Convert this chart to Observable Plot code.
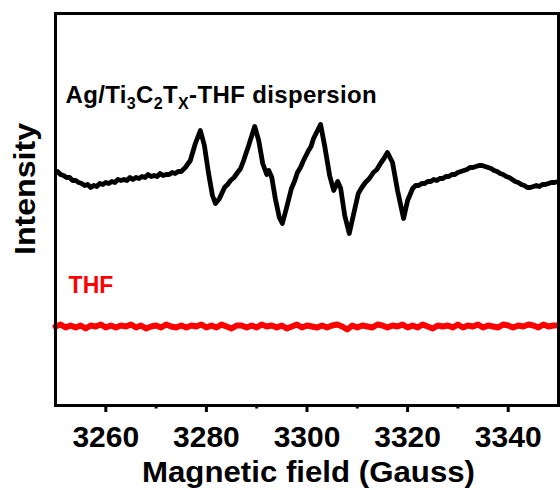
<!DOCTYPE html>
<html><head><meta charset="utf-8">
<script src="https://cdn.jsdelivr.net/npm/d3@7"></script>
<script src="https://cdn.jsdelivr.net/npm/@observablehq/plot@0.6"></script>
<style>
body{margin:0;background:#fff}
svg{font-family:"Liberation Sans",Arial,sans-serif}
</style>
</head><body><div id="chart"></div>
<script>
// Ag/Ti3C2Tx-THF dispersion EPR trace (arbitrary intensity units)
const agField = [3250.4,3251.0,3251.6,3252.2,3252.8,3253.4,3254.0,3254.6,3255.2,3255.8,3256.4,3257.0,3257.6,3258.2,3258.8,3259.4,3260.0,3260.6,3261.2,3261.8,3262.4,3263.0,3263.6,3264.2,3264.8,3265.4,3266.0,3266.6,3267.2,3267.8,3268.4,3269.0,3269.6,3270.2,3270.8,3271.4,3272.0,3272.6,3273.2,3273.8,3274.4,3275.0,3275.8,3276.8,3277.8,3278.8,3279.6,3280.4,3281.2,3281.8,3282.6,3283.6,3284.2,3284.8,3285.5,3286.2,3286.8,3287.4,3288.4,3289.6,3290.4,3291.2,3292.0,3292.4,3293.0,3293.7,3294.5,3295.1,3295.9,3296.9,3297.5,3298.1,3298.7,3299.3,3300.3,3300.8,3301.3,3302.7,3303.5,3304.5,3305.3,3306.1,3306.7,3307.5,3308.4,3309.2,3310.2,3310.9,3311.6,3312.4,3313.2,3313.9,3314.6,3315.3,3316.0,3317.0,3318.0,3319.2,3320.0,3321.0,3321.6,3322.2,3322.8,3323.4,3324.0,3324.6,3325.2,3325.8,3326.4,3327.0,3327.6,3328.2,3328.8,3329.4,3330.0,3330.6,3331.2,3331.8,3332.4,3333.0,3333.6,3334.2,3334.8,3335.4,3336.0,3336.6,3337.2,3337.8,3338.4,3339.0,3339.6,3340.2,3340.8,3341.4,3342.0,3342.6,3343.2,3343.8,3344.4,3345.0,3345.6,3346.2,3346.8,3347.4,3348.0,3348.6,3349.2,3350.0];
const agIntensity = [234,231,230,228,228,225,225,223,222,220,221,218,220,219,222,221,223,222,224,223,226,225,226,225,228,226,228,227,229,228,231,229,230,229,232,230,231,231,233,232,234,234,238,245,262,275,260,233,210,202,207,218,221,225,228,233,237,245,260,279,265,242,231,235,228,207,188,182,197,217,224,233,238,245,255,259,267,281,260,230,215,224,217,190,172,190,212,218,223,227,233,236,242,247,253,243,215,187,205,217,220,220,222,222,224,224,226,225,227,227,229,229,231,231,233,234,235,236,238,238,239,240,240,239,238,237,235,234,232,231,229,228,226,224,223,221,220,218,218,219,220,219,221,221,222,223,223,224];
// THF blank trace
const thfField = [3250,3251,3252,3253,3254,3255,3256,3257,3258,3259,3260,3261,3262,3263,3264,3265,3266,3267,3268,3269,3270,3271,3272,3273,3274,3275,3276,3277,3278,3279,3280,3281,3282,3283,3284,3285,3286,3287,3288,3289,3290,3291,3292,3293,3294,3295,3296,3297,3298,3299,3300,3301,3302,3303,3304,3305,3306,3307,3308,3309,3310,3311,3312,3313,3314,3315,3316,3317,3318,3319,3320,3321,3322,3323,3324,3325,3326,3327,3328,3329,3330,3331,3332,3333,3334,3335,3336,3337,3338,3339,3340,3341,3342,3343,3344,3345,3346,3347,3348,3349,3350];
const thfIntensity = [79,81,78,80,78,80,77,80,79,81,78,80,78,80,79,81,78,80,77,79,80,78,81,79,78,80,78,80,79,81,78,80,78,81,79,77,80,80,78,80,78,81,79,80,78,80,77,79,81,78,80,79,78,80,78,80,81,79,76,80,78,80,79,78,81,80,78,80,79,81,78,80,78,81,79,77,80,79,80,78,81,78,80,79,81,78,80,79,78,81,80,78,80,79,81,80,78,81,79,80,80];
const majorTicks = [3260,3280,3300,3320,3340];
const minorTicks = [3270,3290,3310,3330];
const seriesLabels = ["Ag/Ti3C2TX-THF dispersion","THF"];
const labelField = [3252.0,3252.6];
const labelIntensity = [303,113];
const labelColors = ["black","#ff0000"];
const labelSizes = [24,23];

const ag = agField.map((f,i)=>({field:f,intensity:agIntensity[i]}));
const thf = thfField.map((f,i)=>({field:f,intensity:thfIntensity[i]}));
const labels = seriesLabels.map((t,i)=>({text:t,field:labelField[i],intensity:labelIntensity[i],color:labelColors[i],size:labelSizes[i]}));

const plot = Plot.plot({
  width:560, height:490,
  marginLeft:55, marginRight:2, marginTop:13, marginBottom:85,
  style:{fontFamily:"Liberation Sans, Arial, sans-serif", background:"white"},
  x:{domain:[3250,3350]},
  y:{domain:[0,392], axis:null},
  marks:[
    Plot.line(thf,{x:"field",y:"intensity",stroke:"#ff0000",strokeWidth:6,strokeLinejoin:"round"}),
    Plot.line(ag,{x:"field",y:"intensity",stroke:"black",strokeWidth:4.8,strokeLinejoin:"round"}),
    Plot.frame({stroke:"black",strokeWidth:3}),
    Plot.axisX({ticks:majorTicks,tickSize:7,tickPadding:13,fontSize:30,fontWeight:"bold",strokeWidth:3,label:null,tickFormat:d=>String(d),color:"black"}),
    Plot.axisX({ticks:minorTicks,tickSize:3.5,strokeWidth:3,label:null,tickFormat:()=>""}),
    Plot.text(labels,{x:"field",y:"intensity",text:"text",fill:"color",textAnchor:"start",lineAnchor:"bottom",fontSize:"size",fontWeight:"bold"})
  ]
});
document.getElementById("chart").appendChild(plot);
const svg = d3.select(plot);
// subscripts in the sample label
svg.selectAll("text").filter(function(){return this.textContent===seriesLabels[0];}).each(function(){
  const t = d3.select(this); t.text("").attr("letter-spacing","0.35px");
  const parts = [["Ag/Ti",0],["3",1],["C",0],["2",1],["T",0],["X",1],["-THF dispersion",0]];
  let sub=false;
  parts.forEach(([s,isSub])=>{
    const sp = t.append("tspan").text(s);
    if(isSub){sp.attr("font-size",16); if(!sub){sp.attr("dy",6);sub=true;}}
    else if(sub){sp.attr("dy",-6);sub=false;}
  });
});
// axis titles
svg.append("text").attr("x",(55+558)/2+2).attr("y",482).attr("text-anchor","middle")
  .attr("font-size",29).attr("font-weight","bold").attr("fill","black")
  .attr("textLength",333).attr("lengthAdjust","spacingAndGlyphs").text("Magnetic field (Gauss)");
svg.append("text").attr("transform","translate(35,189) rotate(-90)").attr("text-anchor","middle")
  .attr("font-size",30).attr("font-weight","bold").attr("fill","black")
  .attr("textLength",132).attr("lengthAdjust","spacingAndGlyphs").text("Intensity");
</script>
</body></html>
